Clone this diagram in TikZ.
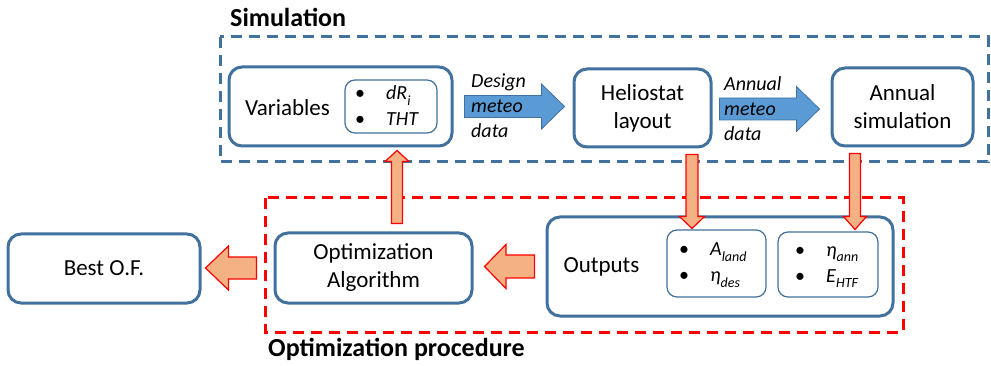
\documentclass[tikz,border=0pt]{standalone}
\usepackage{fontspec}
\setmainfont{Carlito}
\usetikzlibrary{calc}
\definecolor{bstroke}{HTML}{41719C}
\definecolor{bfill}{HTML}{5B9BD5}
\definecolor{ofill}{HTML}{F4B183}
\definecolor{rdash}{HTML}{FF0000}
% style, start, end, half body, half head, head length
\newcommand\fatarrow[6]{%
  \coordinate (fas) at (#2);
  \coordinate (fae) at (#3);
  \coordinate (fah) at ($(fae)!#6!(fas)$);
  \draw[#1] ($(fas)!#4!90:(fae)$) -- ($(fah)!#4!90:(fae)$) -- ($(fah)!#5!90:(fae)$)
    -- (fae) -- ($(fah)!#5!-90:(fae)$) -- ($(fah)!#4!-90:(fae)$) -- ($(fas)!#4!-90:(fae)$) -- cycle;
}
\newcommand\sbs[1]{\raisebox{-0.28em}{\fontsize{14}{14}\selectfont\itshape #1}}
\tikzset{
  box/.style={draw=bstroke, line width=3pt, rounded corners=13pt, fill=white, inner sep=0pt, align=center,
    font=\fontsize{23}{28}\selectfont},
  inbox/.style={draw=bstroke, line width=1.2pt, rounded corners=10pt, inner sep=0pt},
  lbl/.style={inner sep=0pt, font=\fontsize{23}{28}\selectfont},
  items/.style={inner sep=0pt, align=left, font=\fontsize{20}{26}\selectfont},
  flow/.style={inner sep=0pt, align=left, font=\fontsize{20}{25}\selectfont\itshape},
  title/.style={inner sep=0pt, anchor=west, font=\fontsize{26}{30}\selectfont\bfseries},
  bluearrow/.style={fill=bfill, draw=bstroke, line width=0.8pt, line join=miter},
  orangearrow/.style={fill=ofill, draw=rdash, line width=1.2pt, line join=miter},
  simframe/.style={draw=bstroke, line width=3pt, dash pattern=on 11pt off 7pt},
  optframe/.style={draw=rdash, line width=3pt, dash pattern=on 11pt off 7pt},
}
\newcommand\itm[1]{\makebox[31pt][l]{•}#1}
\begin{document}
\begin{tikzpicture}[x=1pt, y=-1pt]
\useasboundingbox (0,0) rectangle (991,366);
% frames
\draw[simframe] (220,37) rectangle (988,162);
\draw[optframe] (265,198) rectangle (903,332);
\node[title] (simt) at (230,17) {Simulation};
\node[title] (optt) at (268,349) {Optimization procedure};
% boxes
\node[box, minimum width=223pt, minimum height=79pt] (var) at (340.5,106.5) {};
\node[lbl] (vart) at ($(var.west)+(60,1)$) {Variables};
\node[inbox, minimum width=92pt, minimum height=53pt] (drb) at (391,106.5) {};
\node[items, anchor=west] (dri) at (355,106) {\itm{\textit{dR}\sbs{i}}\\\itm{\textit{THT}}};
\node[box, minimum width=137pt, minimum height=78pt] (helio) at (642.5,108) {Heliostat\\layout};
\node[box, minimum width=141pt, minimum height=78pt] (annual) at (902.5,107) {Annual\\simulation};
\node[box, minimum width=192pt, minimum height=69pt] (best) at (104,268.5) {Best O.F.};
\node[box, minimum width=197pt, minimum height=70pt] (opt) at (373.5,268) {Optimization\\Algorithm};
\node[box, minimum width=346pt, minimum height=99pt] (out) at (720,266.5) {};
\node[lbl] (outt) at ($(out.west)+(56,0)$) {Outputs};
\node[inbox, minimum width=99pt, minimum height=67pt] (landb) at (716.5,263.5) {};
\node[items, anchor=west] (landi) at (679,265) {\itm{\textit{A}\sbs{land}}\\\itm{\textit{η}\sbs{des}}};
\node[inbox, minimum width=100pt, minimum height=65pt] (annb) at (828,264.5) {};
\node[items, anchor=west] (anni) at (795,267) {\itm{\textit{η}\sbs{ann}}\\\itm{\textit{E}\sbs{HTF}}};
% blue flow arrows
\fatarrow{bluearrow}{$(var.east)+(11,0)$}{$(var.east -| helio.west)+(-8,0)$}{11pt}{22.5pt}{23pt}
\node[flow, anchor=west] (dlab) at (471,106) {Design\\meteo\\data};
\fatarrow{bluearrow}{$(helio.east)+(7,1)$}{$(helio.east -| annual.west)+(-11,1)$}{11pt}{22.5pt}{23pt}
\node[flow, anchor=west] (alab) at (724,109) {Annual\\meteo\\data};
% orange arrows
\fatarrow{orangearrow}{$(helio.south)+(49.5,6)$}{$(helio.south)+(49.5,80)$}{6pt}{12.5pt}{12pt}
\fatarrow{orangearrow}{$(annual.south)+(-47.5,6)$}{$(annual.south)+(-47.5,82)$}{5.5pt}{11.5pt}{13pt}
\fatarrow{orangearrow}{$(opt.north)+(23.5,-8)$}{$(opt.north)+(23.5,-81)$}{5.5pt}{12pt}{11pt}
\fatarrow{orangearrow}{$(out.west)+(-11,0)$}{$(out.west -| opt.east)+(11,0)$}{11.5pt}{22pt}{21.5pt}
\fatarrow{orangearrow}{$(opt.west)+(-17,0)$}{$(opt.west -| best.east)+(4,0)$}{11pt}{22pt}{23pt}
\end{tikzpicture}
\end{document}
